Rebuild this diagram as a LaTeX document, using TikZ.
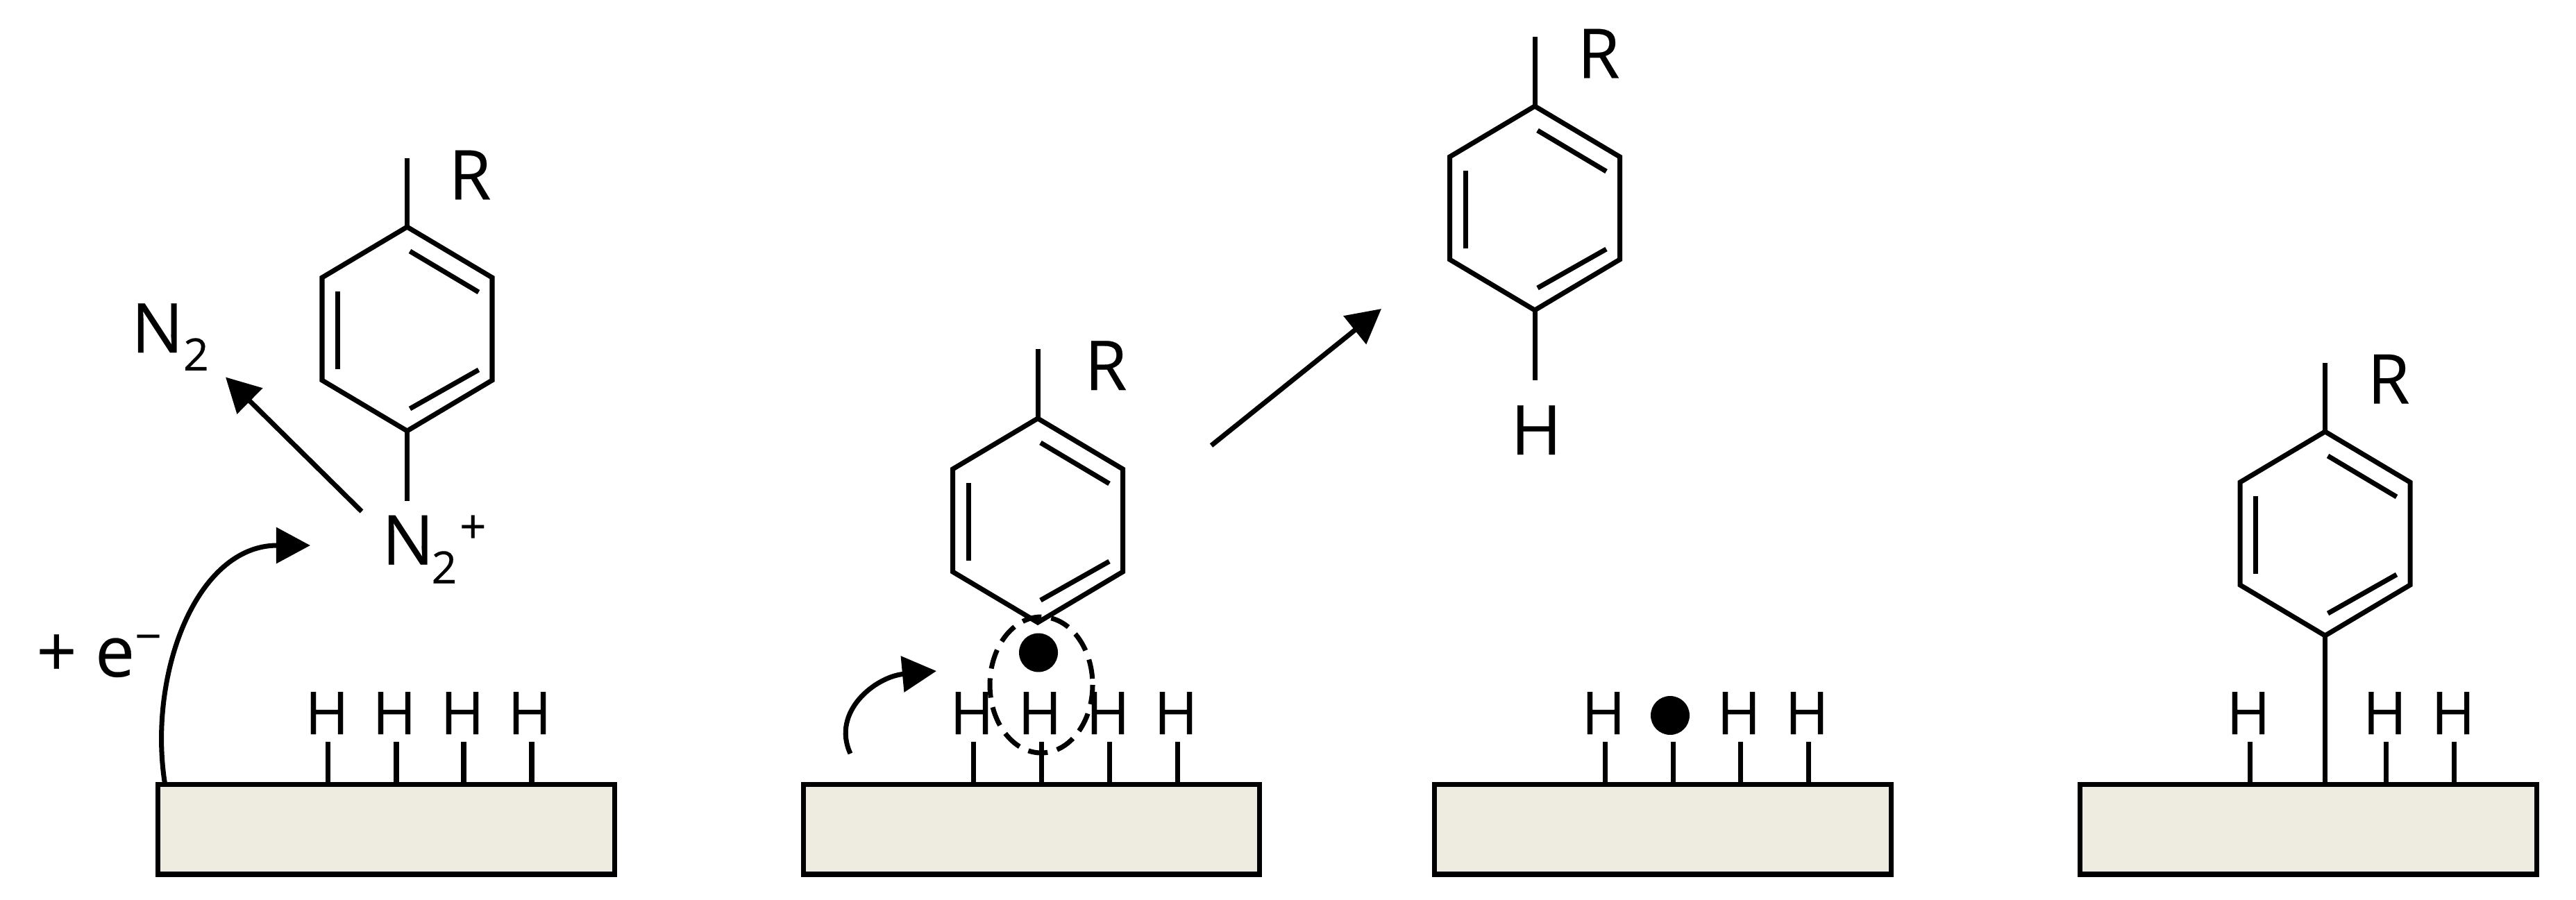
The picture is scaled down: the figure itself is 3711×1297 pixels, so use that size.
\documentclass[tikz,border=0pt]{standalone}
\usepackage{fontspec}
\setmainfont[FakeBold=0.2]{Open Sans}
\usetikzlibrary{arrows.meta}
\definecolor{surf}{HTML}{EEEBE0}
\newcommand{\bigf}{\fontsize{56.4pt}{60pt}\selectfont}
\newcommand{\eef}{\fontsize{58pt}{60pt}\selectfont}
\newcommand{\hf}{\fontsize{48.5pt}{52pt}\selectfont}
\newcommand{\subf}{\fontsize{36.5pt}{40pt}\selectfont}
\newcommand{\supf}{\fontsize{38.5pt}{40pt}\selectfont}
\tikzset{
  x=0.02cm,y=-0.02cm,
  bond/.style={line width=4pt,line cap=butt,line join=miter},
  surface/.style={draw,line width=4pt,fill=surf,minimum width=13.16cm,minimum height=2.6cm,inner sep=0pt,outer sep=0pt},
  hlabel/.style={font=\hf,inner sep=0pt,anchor=base},
  biglabel/.style={font=\bigf,inner sep=0pt,anchor=base},
  arr/.style={bond,-{Triangle[length=28pt,width=29pt]}},
  radical/.style={circle,fill=black,minimum size=1.12cm,inner sep=0pt,outer sep=0pt},
}
% ring: name, top vertex x, top vertex y
\newcommand{\ringat}[3]{%
  \begin{scope}[shift={(#2,#3)}]
    \coordinate (#1t) at (0,0);
    \coordinate (#1b) at (0,294);
    \coordinate (#1r1) at (122.5,73);
    \coordinate (#1r2) at (122.5,221);
    \coordinate (#1l1) at (-122.5,73);
    \coordinate (#1l2) at (-122.5,221);
    \draw[bond] (#1t) -- (#1r1) -- (#1r2) -- (#1b) -- (#1l2) -- (#1l1) -- cycle;
    \draw[bond] (4,35) -- (103,94);
    \draw[bond] (-100,93) -- (-100,205);
    \draw[bond] (4,262) -- (103,206);
  \end{scope}}
% H on a stub: node name, surface, stub x, label x
\newcommand{\hstub}[4]{%
  \coordinate (#1c) at (#3,1069);
  \draw[bond] (#1c) -- (#1c |- #2.north);
  \node[hlabel] (#1) at (#4,1058) {H};}
\begin{document}
\begin{tikzpicture}
\useasboundingbox (0,0) rectangle (3711,1297);
\fill[white] (0,0) rectangle (3711,1297);
% panel 1
\node[surface] (s1) at (556.5,1195) {};
\hstub{ha1}{s1}{472.6}{471}
\hstub{ha2}{s1}{571}{568}
\hstub{ha3}{s1}{668}{666}
\hstub{ha4}{s1}{766}{763}
\ringat{a}{586.5}{327}
\coordinate (ra) at (586.5,228);
\draw[bond] (at) -- (ra);
\node[biglabel] (Ra) at (677,287.5) {R};
\coordinate (na) at (586.5,722);
\draw[bond] (ab) -- (na);
\node[font=\bigf,inner sep=0pt,anchor=base west] (nplus) at (550,813.5) {N\kern-2pt\rlap{\raisebox{-15.5pt}{\subf 2}}\kern23pt\raisebox{17.5pt}{\supf +}};
\node[font=\bigf,inner sep=0pt,anchor=base west] (ntwo) at (189,508) {N\raisebox{-14.7pt}{\subf 2}};
\coordinate (n2s) at (521,737);
\coordinate (n2e) at (325,543.5);
\draw[arr] (n2s) -- (n2e);
\coordinate (c1s) at (237.5,1129);
\coordinate (c1e) at (447,786);
\draw[arr] (c1s) .. controls (213,973) and (282,786) .. (c1e);
\node[font=\eef,inner sep=0pt,anchor=base west] (elec) at (52,975) {+ e\raisebox{19.5pt}{\supf −}};
% panel 2
\node[surface] (s2) at (1486,1195) {};
\hstub{hb1}{s2}{1402.4}{1400}
\hstub{hb2}{s2}{1500.4}{1498}
\hstub{hb3}{s2}{1598.4}{1596}
\hstub{hb4}{s2}{1696}{1694}
\ringat{b}{1495}{603}
\coordinate (rb) at (1495,503);
\draw[bond] (bt) -- (rb);
\node[biglabel] (Rb) at (1593,562) {R};
\node[radical] (db) at (1496,940.5) {};
\draw[bond,dash pattern=on 16pt off 8pt] (1500,987) ellipse [x radius=74,y radius=98];
\coordinate (c2s) at (1225,1086);
\coordinate (c2e) at (1349,967);
\draw[arr] (c2s) .. controls (1197,1025) and (1262,975) .. (c2e);
\coordinate (ls) at (1745,642);
\coordinate (le) at (1990,445);
\draw[arr] (ls) -- (le);
% product
\ringat{c}{2211}{153}
\coordinate (rc) at (2211,53);
\draw[bond] (ct) -- (rc);
\node[biglabel] (Rc) at (2303,112.5) {R};
\coordinate (hcs) at (2211,548);
\draw[bond] (cb) -- (hcs);
\node[biglabel] (Hc) at (2213,655) {H};
% panel 3
\node[surface] (s3) at (2395.5,1195) {};
\hstub{hd1}{s3}{2312}{2310}
\coordinate (ddc) at (2410,1069);
\draw[bond] (ddc) -- (ddc |- s3.north);
\node[radical] (dd) at (2406,1031) {};
\hstub{hd3}{s3}{2507}{2505}
\hstub{hd4}{s3}{2605.5}{2603}
% panel 4
\node[surface] (s4) at (3325.5,1195) {};
\hstub{he1}{s4}{3241.4}{3239}
\hstub{he3}{s4}{3437.5}{3435.4}
\hstub{he4}{s4}{3535}{3534}
\ringat{e}{3349.5}{622}
\coordinate (re) at (3349.5,523);
\draw[bond] (et) -- (re);
\node[biglabel] (Re) at (3441,581.6) {R};
\draw[bond] (eb) -- (eb |- s4.north);
\end{tikzpicture}
\end{document}
